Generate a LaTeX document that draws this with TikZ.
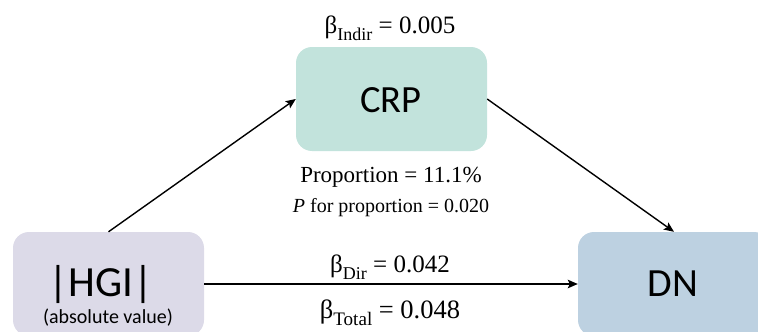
\documentclass[tikz,border=0pt]{standalone}
\usepackage{fontspec}
\setmainfont{Liberation Serif}
\newfontfamily\calfont{Carlito}
\usetikzlibrary{arrows.meta}
\definecolor{hgicol}{HTML}{DCDAE8}
\definecolor{crpcol}{HTML}{C2E3DC}
\definecolor{dncol}{HTML}{BDD1E1}
\newcommand{\bsub}[1]{\raisebox{-0.28em}{\scalebox{0.72}{#1}}}
\begin{document}
\begin{tikzpicture}[x=1pt,y=-1pt,
  box/.style={rounded corners=16pt,inner sep=0pt},
  lbl/.style={inner sep=0pt,anchor=base},
  arr/.style={line width=1.4pt,-{Stealth[length=10pt,width=8.5pt,inset=2pt]}}]
\clip (0,0) rectangle (758,332);
\node[box,fill=hgicol,minimum width=191pt,minimum height=104pt] (hgi) at (108.5,284) {};
\node[box,fill=crpcol,minimum width=191pt,minimum height=104pt] (crp) at (391.5,99) {};
\node[box,fill=dncol,minimum width=192pt,minimum height=104pt] (dn) at (674,284) {};
\node[lbl,font=\calfont\fontsize{43}{46}\selectfont] (thgi) at (101,296) {|HGI|};
\node[lbl,font=\calfont\fontsize{20}{22}\selectfont] (tabs) at (108,323) {(absolute value)};
\node[lbl,font=\calfont\fontsize{38.5}{42}\selectfont] (tcrp) at (391,112) {CRP};
\node[lbl,font=\calfont\fontsize{40}{44}\selectfont] (tdn) at (673,296) {DN};
\node[lbl,font=\fontsize{25}{28}\selectfont] (bind) at (390,33) {β\bsub{Indir} = 0.005};
\node[lbl,font=\fontsize{23}{26}\selectfont] (prop) at (391,182) {Proportion = 11.1\%};
\node[lbl,font=\fontsize{20}{24}\selectfont] (pval) at (391,212) {\textit{P} for proportion = 0.020};
\node[lbl,font=\fontsize{25}{28}\selectfont] (bdir) at (390,272) {β\bsub{Dir} = 0.042};
\node[lbl,font=\fontsize{26.5}{28}\selectfont] (btot) at (390,318) {β\bsub{Total} = 0.048};
\draw[arr] (hgi.north) -- (crp.west);
\draw[arr] (crp.east) -- (dn.north);
\draw[arr] (hgi.east) -- (dn.west);
\end{tikzpicture}
\end{document}
